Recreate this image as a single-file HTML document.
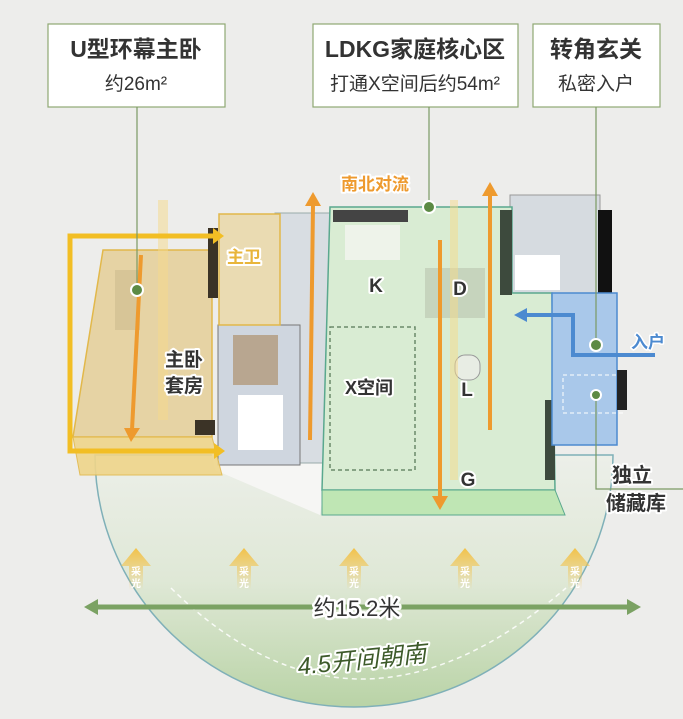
<!DOCTYPE html>
<html><head><meta charset="utf-8"><style>
html,body{margin:0;padding:0;background:#ededeb;}
svg{display:block}
text{font-family:"Liberation Sans","Noto Sans CJK SC",sans-serif;}
</style></head><body>
<svg width="683" height="719" viewBox="0 0 683 719" xmlns="http://www.w3.org/2000/svg">
<defs>
<linearGradient id="semi" x1="0" y1="0" x2="0" y2="1">
<stop offset="0" stop-color="#ecefe9"/><stop offset="0.5" stop-color="#dfe8d6"/><stop offset="1" stop-color="#b9d3a6"/>
</linearGradient>
<linearGradient id="ray" x1="0" y1="0" x2="0" y2="1">
<stop offset="0" stop-color="#f2c24a"/><stop offset="1" stop-color="#f2c24a" stop-opacity="0"/>
</linearGradient>
</defs>
<rect width="683" height="719" fill="#ededeb"/>
<!-- semicircle -->
<path d="M95 455 A259 252 0 0 0 613 455 Z" fill="url(#semi)" stroke="#7fb0b8" stroke-width="1.5"/>
<path d="M171 588 Q355 770 566 588" fill="none" stroke="#fff" stroke-width="1.5" stroke-dasharray="5,4" opacity="0.85"/>

<!-- base floor -->
<polygon points="210,445 330,445 320,515 215,470" fill="#f6f6f4"/>
<!-- grey middle rooms -->
<rect x="275" y="213" width="58" height="250" fill="#d8dde2" stroke="#9aa" stroke-width="1"/>
<rect x="218" y="325" width="82" height="140" fill="#cfd6df" stroke="#777" stroke-width="1"/>
<rect x="233" y="335" width="45" height="50" fill="#b8a690"/>
<rect x="238" y="395" width="45" height="55" fill="#fff"/>
<!-- right grey -->
<rect x="510" y="195" width="90" height="100" fill="#d6dbe0" stroke="#999"/>
<rect x="515" y="255" width="45" height="35" fill="#fff"/>
<rect x="598" y="210" width="14" height="95" fill="#111"/>

<!-- yellow bedroom -->
<polygon points="103,250 212,250 212,437 73,437" fill="#e6d3a4" stroke="#e2b84a" stroke-width="1.5"/>
<polygon points="219,214 280,214 280,325 219,325" fill="#eadbb2" stroke="#e2b84a" stroke-width="1.5"/>
<polygon points="73,437 212,437 222,475 80,475" fill="#efd58a" opacity="0.9" stroke="#e2b84a"/>
<rect x="115" y="270" width="25" height="60" fill="#d7c597"/>
<rect x="195" y="420" width="20" height="15" fill="#3b3326"/>
<rect x="208" y="228" width="10" height="70" fill="#3b3326"/>
<!-- green core -->
<polygon points="330,207 512,207 512,293 552,293 555,490 322,490" fill="#d9ecd3" stroke="#5aa88e" stroke-width="1.5"/>
<polygon points="322,490 555,490 565,515 322,515" fill="#bfe6b4" stroke="#5aa88e"/>
<rect x="333" y="210" width="75" height="12" fill="#444"/>
<rect x="345" y="225" width="55" height="35" fill="#eef3ea"/>
<rect x="425" y="268" width="60" height="50" fill="#c6d4bd"/>
<rect x="500" y="210" width="12" height="85" fill="#3d4a3d"/>
<rect x="330" y="327" width="85" height="143" fill="none" stroke="#6a8a6a" stroke-width="1.5" stroke-dasharray="4,3"/>
<rect x="455" y="355" width="25" height="25" rx="10" fill="#e8ede4" stroke="#999"/>
<rect x="545" y="400" width="10" height="80" fill="#3d4a3d"/>
<!-- blue -->
<rect x="552" y="293" width="65" height="152" fill="#a9c8ea" stroke="#4c8ad0" stroke-width="1.5"/>
<rect x="563" y="375" width="60" height="38" fill="none" stroke="#fff" stroke-dasharray="4,3"/>
<rect x="617" y="370" width="10" height="40" fill="#222"/>

<!-- light rays -->
<rect x="158" y="200" width="10" height="220" fill="#f5d98a" opacity="0.5"/>
<rect x="450" y="200" width="8" height="280" fill="#f5d98a" opacity="0.5"/>

<!-- yellow U arrow -->
<polyline points="213,236 70,236 70,451 214,451" fill="none" stroke="#f2be24" stroke-width="5"/>
<polygon points="213,228 224,236 213,244" fill="#f2be24"/>
<polygon points="214,443 225,451 214,459" fill="#f2be24"/>
<!-- orange arrows -->
<g stroke="#ee9a2e" stroke-width="4" fill="#ee9a2e">
<line x1="141" y1="255" x2="132" y2="430"/><polygon points="124,428 140,428 131,442" stroke="none"/>
<line x1="313" y1="205" x2="310" y2="440"/><polygon points="305,206 321,206 313,192" stroke="none"/>
<line x1="490" y1="195" x2="490" y2="430"/><polygon points="482,196 498,196 490,182" stroke="none"/>
<line x1="440" y1="240" x2="440" y2="498"/><polygon points="432,496 448,496 440,510" stroke="none"/>
</g>
<!-- blue entry arrow -->
<polyline points="655,355 573,355 573,315 525,315" fill="none" stroke="#4c8ad0" stroke-width="4"/>
<polygon points="527,308 514,315 527,322" fill="#4c8ad0"/>

<!-- callout boxes -->
<g fill="#fff" stroke="#8fa873" stroke-width="1.2">
<rect x="48" y="24" width="177" height="83"/>
<rect x="313" y="24" width="205" height="83"/>
<rect x="533" y="24" width="127" height="83"/>
</g>
<g stroke="#7b9a63" stroke-width="1.2" fill="none">
<line x1="137" y1="107" x2="137" y2="290"/>
<line x1="429" y1="107" x2="429" y2="206"/>
<line x1="596" y1="107" x2="596" y2="345"/>
<polyline points="596,395 596,489 683,489"/>
</g>
<g fill="#5c8a44" stroke="#fff" stroke-width="2">
<circle cx="137" cy="290" r="6"/><circle cx="429" cy="207" r="6"/><circle cx="596" cy="345" r="6"/><circle cx="596" cy="395" r="5"/>
</g>
<g text-anchor="middle" fill="#333">
<text x="136" y="57" font-size="23" font-weight="bold">U型环幕主卧</text>
<text x="136" y="90" font-size="19">约26m²</text>
<text x="415" y="57" font-size="23" font-weight="bold">LDKG家庭核心区</text>
<text x="415" y="90" font-size="19">打通X空间后约54m²</text>
<text x="596" y="57" font-size="23" font-weight="bold">转角玄关</text>
<text x="596" y="90" font-size="19">私密入户</text>
</g>

<!-- room labels -->
<g text-anchor="middle" font-weight="bold" stroke-linejoin="round" paint-order="stroke">
<text x="375" y="190" font-size="17" fill="#ee9a2e" stroke="#fff" stroke-width="4">南北对流</text>
<text x="244" y="263" font-size="17" fill="#e8b53a" stroke="#fff" stroke-width="4">主卫</text>
<g fill="#333" stroke="#fff" stroke-width="4">
<text x="184" y="366" font-size="19">主卧</text>
<text x="184" y="392" font-size="19">套房</text>
<text x="376" y="292" font-size="19">K</text>
<text x="460" y="295" font-size="19">D</text>
<text x="369" y="394" font-size="18">X空间</text>
<text x="467" y="396" font-size="19">L</text>
<text x="468" y="486" font-size="19">G</text>
<text x="632" y="482" font-size="20">独立</text>
<text x="636" y="510" font-size="20">储藏库</text>
</g>
<text x="648" y="348" font-size="17" fill="#4c8ad0" stroke="#fff" stroke-width="3">入户</text>
</g>

<!-- 采光 arrows -->
<g font-size="10" text-anchor="middle" fill="#fff" font-weight="bold">
<g transform="translate(136,548)"><polygon points="0,0 15,18 7,18 7,42 -7,42 -7,18 -15,18" fill="url(#ray)"/><text y="27">采</text><text y="39">光</text></g>
<g transform="translate(244,548)"><polygon points="0,0 15,18 7,18 7,42 -7,42 -7,18 -15,18" fill="url(#ray)"/><text y="27">采</text><text y="39">光</text></g>
<g transform="translate(354,548)"><polygon points="0,0 15,18 7,18 7,42 -7,42 -7,18 -15,18" fill="url(#ray)"/><text y="27">采</text><text y="39">光</text></g>
<g transform="translate(465,548)"><polygon points="0,0 15,18 7,18 7,42 -7,42 -7,18 -15,18" fill="url(#ray)"/><text y="27">采</text><text y="39">光</text></g>
<g transform="translate(575,548)"><polygon points="0,0 15,18 7,18 7,42 -7,42 -7,18 -15,18" fill="url(#ray)"/><text y="27">采</text><text y="39">光</text></g>
</g>

<!-- dimension -->
<line x1="95" y1="607" x2="630" y2="607" stroke="#7ba263" stroke-width="5"/>
<polygon points="84,607 98,599 98,615" fill="#7ba263"/>
<polygon points="641,607 627,599 627,615" fill="#7ba263"/>
<text x="357" y="616" font-size="22" text-anchor="middle" fill="#333" stroke="#fff" stroke-width="5" paint-order="stroke" stroke-linejoin="round">约15.2米</text>
<text x="362" y="668" font-size="24" text-anchor="middle" fill="#3d5a2a" stroke="#fff" stroke-width="4" paint-order="stroke" stroke-linejoin="round" font-family="Liberation Serif,Noto Serif CJK SC,serif" font-style="italic" transform="rotate(-6 362 660)">4.5开间朝南</text>
</svg>
</body></html>
